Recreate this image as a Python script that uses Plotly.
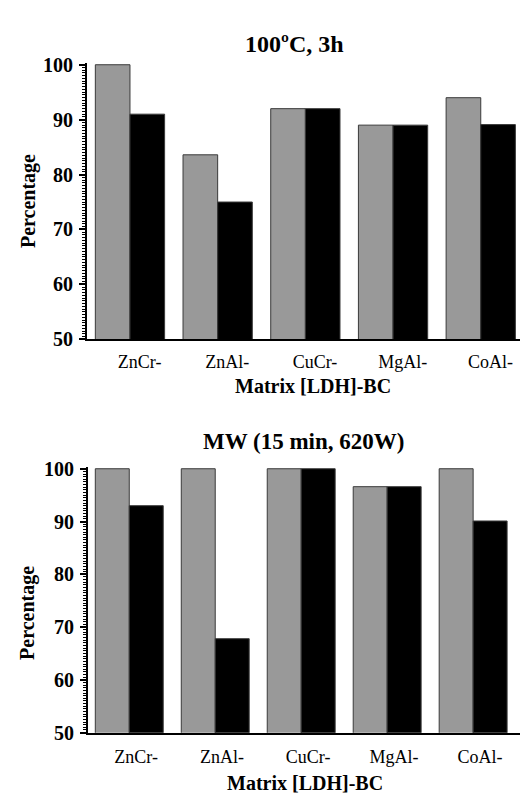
import plotly.graph_objects as go

categories = ["ZnCr-", "ZnAl-", "CuCr-", "MgAl-", "CoAl-"]
top_gray = [100, 83.6, 92, 89, 94]
top_black = [91, 75, 92, 89, 89.1]
bot_gray = [100, 100, 100, 96.6, 100]
bot_black = [93, 67.8, 100, 96.6, 90.1]
y_ticks = [50, 60, 70, 80, 90, 100]

W, H = 528, 796
SERIF = "Liberation Serif, Times New Roman, serif"
xpos = list(range(len(categories)))

fig = go.Figure()
line = dict(color="#3a3a3a", width=1)
fig.add_trace(go.Bar(x=xpos, y=top_gray, marker=dict(color="#999999", line=line),
                     xaxis="x", yaxis="y", showlegend=False))
fig.add_trace(go.Bar(x=xpos, y=top_black, marker=dict(color="#000000", line=line),
                     xaxis="x", yaxis="y", showlegend=False))
fig.add_trace(go.Bar(x=xpos, y=bot_gray, marker=dict(color="#999999", line=line),
                     xaxis="x2", yaxis="y2", showlegend=False))
fig.add_trace(go.Bar(x=xpos, y=bot_black, marker=dict(color="#000000", line=line),
                     xaxis="x2", yaxis="y2", showlegend=False))

def yax(domain, anchor):
    return dict(domain=domain, anchor=anchor, range=[50, 100.25], tickvals=y_ticks,
                showgrid=False, zeroline=False, showline=True, linecolor="black", linewidth=2,
                ticks="outside", ticklen=6, tickwidth=2, tickcolor="black",
                ticklabelstandoff=2,
                minor=dict(dtick=0.5, ticks="outside", ticklen=3, tickwidth=1, tickcolor="black"),
                tickfont=dict(family=SERIF, size=20, color="black", weight="bold"))

def xax(domain, anchor, rng, shift, standoff):
    return dict(domain=domain, anchor=anchor, range=rng,
                tickvals=[p + shift for p in xpos], ticktext=categories,
                showgrid=False, zeroline=False, showline=True, linecolor="black", linewidth=2,
                ticks="", ticklabelstandoff=standoff,
                tickfont=dict(family=SERIF, size=18, color="black"))

fig.update_layout(
    width=W, height=H, margin=dict(l=0, r=0, t=0, b=0),
    paper_bgcolor="white", plot_bgcolor="white",
    barmode="group", bargap=0.21, bargroupgap=0,
    xaxis=xax([79 / W, 1.0], "y", [-0.49, 4.63], 0.11, 5),
    yaxis=yax([1 - 330 / H, 1 - 46.6 / H], "x"),
    xaxis2=xax([80 / W, 515 / W], "y2", [-0.48, 4.58], 0.08, 7),
    yaxis2=yax([1 - 734 / H, 1 - 461.6 / H], "x2"),
)

def ann(text, x, y, size, bold=True, angle=0):
    fig.add_annotation(text=text, x=x / W, y=1 - y / H, xref="paper", yref="paper",
                       showarrow=False, textangle=angle, xanchor="center", yanchor="middle",
                       font=dict(family=SERIF, size=size, color="black",
                                 weight="bold" if bold else "normal"))

ann("100ºC, 3h", 286, 27, 24)
ann("MW (15 min, 620W)", 295, 435, 23)
ann("Percentage", 20, 188, 20, angle=-90)
ann("Percentage", 20, 611, 20, angle=-90)
ann("Matrix [LDH]-BC", 305, 378, 20)
ann("Matrix [LDH]-BC", 297, 786, 20)

fig.write_html("out.html")
